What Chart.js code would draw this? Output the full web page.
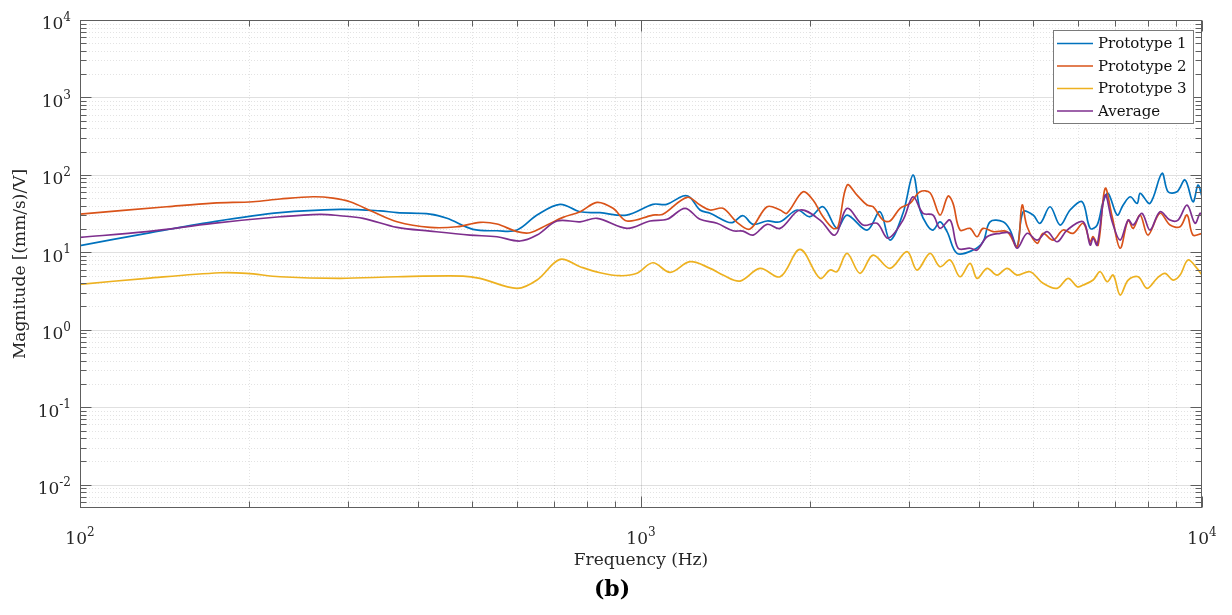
<!DOCTYPE html>
<html>
<head>
<meta charset="utf-8">
<script src="https://cdn.jsdelivr.net/npm/chart.js@4/dist/chart.umd.min.js"></script>
<style>
  html, body { margin: 0; padding: 0; background: #ffffff; }
  #wrap { width: 1232px; height: 615px; position: relative; }
</style>
</head>
<body>
<div id="wrap"><canvas id="c" width="1232" height="615"></canvas></div>
<script>
// Frequency response magnitude of three prototypes and their average (Hz, (mm/s)/V)
const freqP1 = [100,131.5,172.6,227.3,290.8,342.6,367.4,420.7,451,501.8,553.7,601.2,652.6,717.3,778.7,845.3,943,1050,1111,1188,1223,1274,1328,1422,1459,1520,1584,1678,1770,1898,2001,2111,2236,2330,2529,2667,2779,2931,3054,3143,3235,3316,3412,3512,3659,3908,4071,4190,4420,4549,4682,4798,5000,5145,5361,5586,5820,6115,6319,6502,6665,6803,7060,7236,7448,7663,7759,8078,8486,8699,9026,9328,9638,9838,10000];
const magP1 = [12.2,17.6,24.8,32.5,35.9,34.4,32.5,31.2,27.5,19.8,19.0,19.4,30.3,41.7,33.4,32.5,30.3,41.7,41.7,53.3,51.3,35.2,31.9,24.8,24.4,29.7,23.0,25.4,24.8,35.2,28.8,38.8,20.4,30.3,19.4,33.4,14.4,31.9,99.5,35.2,22.5,19.4,24.8,18.5,9.7,10.7,13.7,24.8,24.8,19.4,11.8,33.4,30.3,23.7,38.8,22.5,35.2,45.0,20.4,22.5,45.0,57.8,30.3,40.8,52.2,42.9,57.8,42.9,104.7,60.6,60.6,85.7,45.0,73.9,52.2];

const freqP2 = [100,142.7,172.6,203.4,227.3,260.2,282.5,302.9,332.9,367.4,420.7,469.9,516.4,553.7,601.2,634.1,680,726.1,778.7,834.9,891.6,944.1,1050,1094,1208,1274,1328,1400,1483,1564,1678,1770,1819,1945,2026,2111,2200,2245,2330,2427,2529,2592,2700,2779,2896,3017,3143,3275,3412,3526,3599,3704,3860,3972,4071,4243,4493,4682,4779,4879,5082,5209,5427,5655,5893,6140,6319,6397,6529,6720,6917,7147,7386,7539,7759,8011,8416,8771,9139,9405,9638,10000];
const magP2 = [31.2,38.8,43.3,45.0,48.8,52.2,50.2,45.0,33.4,24.8,21.0,21.4,24.4,23.2,18.5,17.9,22.5,28.3,33.4,44.2,37.0,25.4,30.3,31.0,51.3,40.8,35.2,37.0,24.4,20.0,38.8,35.2,31.9,60.6,47.3,28.8,20.4,21.4,73.9,54.9,40.8,38.8,26.1,25.4,37.0,42.9,60.6,58.8,30.3,53.3,42.9,19.4,20.4,15.9,20.4,18.5,18.5,11.8,40.8,21.4,13.1,17.6,14.4,19.4,17.6,23.7,13.7,15.9,12.4,67.0,28.8,11.3,26.1,20.4,30.3,16.7,31.9,22.5,21.4,30.3,16.7,17.6];

const freqP3 = [100,131.5,177.7,198.2,227.3,290.8,367.4,481.7,516.4,601.2,652.6,717.3,778.7,845.3,917.6,983.7,1050,1127,1223,1328,1400,1502,1630,1770,1921,2085,2173,2236,2330,2457,2592,2779,2980,3105,3275,3412,3556,3704,3860,3972,4139,4313,4493,4682,4939,5209,5517,5773,5991,6140,6397,6584,6776,6946,7147,7386,7695,7980,8314,8591,8879,9139,9443,9797,10000];
const magP3 = [3.86,4.62,5.45,5.36,4.84,4.62,4.84,4.94,4.62,3.43,4.39,8.1,6.52,5.45,4.99,5.36,7.34,5.52,7.57,6.21,5.09,4.26,6.21,4.84,10.9,4.62,5.91,5.62,9.7,5.36,9.2,6.21,10.2,5.91,9.7,6.52,7.96,4.84,7.21,4.62,6.21,5.09,6.21,5.09,5.62,3.98,3.43,4.62,3.60,3.78,4.39,5.62,4.17,5.09,2.81,4.39,4.84,3.43,4.62,5.36,4.39,5.09,7.96,6.21,5.09];

const freqAvg = [100,131.5,172.6,227.3,267.9,290.8,319.6,367.4,420.7,495.7,553.7,608.6,652.6,708.5,778.7,834.9,944.1,1038,1113,1198,1274,1366,1459,1520,1584,1678,1770,1921,2085,2218,2330,2488,2635,2756,2931,3054,3182,3316,3412,3556,3675,3860,3972,4139,4366,4549,4682,4879,5082,5295,5517,5749,6140,6319,6397,6502,6720,6917,7147,7386,7539,7816,8078,8416,8771,9063,9405,9718,9918,10000];
const magAvg = [15.6,18.5,23.7,28.8,31.0,29.7,27.5,21.0,18.8,16.7,15.9,14.0,16.7,25.4,24.8,27.5,20.4,25.4,26.7,37.0,26.7,23.7,19.0,18.8,16.7,23.0,20.4,35.2,26.1,16.7,37.0,22.5,23.7,15.2,26.1,52.2,31.9,30.3,20.4,26.1,11.3,11.3,10.7,15.9,17.6,17.6,11.3,17.6,14.4,18.5,13.7,19.4,24.8,12.4,15.2,12.4,54.9,24.8,14.4,26.1,22.5,31.9,19.4,33.4,26.1,26.1,40.8,23.7,31.9,30.3];

const seriesNames = ['Prototype 1', 'Prototype 2', 'Prototype 3', 'Average'];

// Axis limits and labelled decades
const xRange = [100, 10000];
const yRange = [0.005, 10000];
const xTickValues = [100, 1000, 10000];
const xTickExps = ['2', '3', '4'];
const yTickValues = [0.01, 0.1, 1, 10, 100, 1000, 10000];
const yTickExps = ['-2', '-1', '0', '1', '2', '3', '4'];

const xTitle = 'Frequency (Hz)';
const yTitle = 'Magnitude [(mm/s)/V]';
const panelTag = '(b)';

const colors = ['#0072BD', '#D95319', '#EDB120', '#7E2F8E'];

function toPoints(xs, ys) {
  const n = Math.min(xs.length, ys.length);
  const pts = [];
  for (let i = 0; i < n; i++) pts.push({ x: xs[i], y: ys[i] });
  return pts;
}

// minor decade subdivisions (2..9 x 10^n) within an axis range
function minorValues(min, max) {
  const out = [];
  for (let e = Math.floor(Math.log10(min)); e <= Math.ceil(Math.log10(max)); e++) {
    for (let k = 2; k <= 9; k++) {
      const v = k * Math.pow(10, e);
      if (v > min * 1.0001 && v < max * 0.9999) out.push(v);
    }
  }
  return out;
}

const SERIF = '"DejaVu Serif", "Liberation Serif", serif';
const AXIS_COLOR = '#5e5e5e';
const TEXT_COLOR = '#262626';

function drawPower(ctx, base, exp, x, y, align) {
  ctx.font = '17px ' + SERIF;
  const wb = ctx.measureText(base).width;
  ctx.font = '12px ' + SERIF;
  const we = ctx.measureText(exp).width;
  const total = wb + we;
  const x0 = align === 'right' ? x - total : x - total / 2;
  ctx.textAlign = 'left';
  ctx.textBaseline = 'middle';
  ctx.fillStyle = TEXT_COLOR;
  ctx.font = '17px ' + SERIF;
  ctx.fillText(base, x0, y + 5);
  ctx.font = '12px ' + SERIF;
  ctx.fillText(exp, x0 + wb, y - 2);
}

const framePlugin = {
  id: 'frame',
  beforeDatasetsDraw(chart) {
    const { ctx, chartArea: a, scales } = chart;
    const xs = scales.x, ys = scales.y;
    ctx.save();
    ctx.beginPath();
    ctx.rect(a.left, a.top, a.right - a.left, a.bottom - a.top);
    ctx.clip();
    // minor grid, dotted
    ctx.lineWidth = 1;
    ctx.strokeStyle = 'rgba(0,0,0,0.11)';
    ctx.setLineDash([1, 2]);
    minorValues(xRange[0], xRange[1]).forEach(v => {
      const p = Math.round(xs.getPixelForValue(v)) + 0.5;
      ctx.beginPath(); ctx.moveTo(p, a.top); ctx.lineTo(p, a.bottom); ctx.stroke();
    });
    minorValues(yRange[0], yRange[1]).forEach(v => {
      const p = Math.round(ys.getPixelForValue(v)) + 0.5;
      ctx.beginPath(); ctx.moveTo(a.left, p); ctx.lineTo(a.right, p); ctx.stroke();
    });
    // major grid, solid
    ctx.setLineDash([]);
    ctx.strokeStyle = 'rgba(0,0,0,0.12)';
    xTickValues.forEach(v => {
      const p = Math.round(xs.getPixelForValue(v)) + 0.5;
      ctx.beginPath(); ctx.moveTo(p, a.top); ctx.lineTo(p, a.bottom); ctx.stroke();
    });
    yTickValues.forEach(v => {
      const p = Math.round(ys.getPixelForValue(v)) + 0.5;
      ctx.beginPath(); ctx.moveTo(a.left, p); ctx.lineTo(a.right, p); ctx.stroke();
    });
    ctx.restore();
  },
  afterDatasetsDraw(chart) {
    const { ctx, chartArea: a, scales } = chart;
    const xs = scales.x, ys = scales.y;
    const L = Math.round(a.left) + 0.5, R = Math.round(a.right) - 0.5;
    const T = Math.round(a.top) + 0.5, B = Math.round(a.bottom) - 0.5;
    ctx.save();
    // axes box
    ctx.strokeStyle = AXIS_COLOR;
    ctx.lineWidth = 1;
    ctx.strokeRect(L, T, R - L, B - T);
    // inward tick marks on all four sides
    const majorLen = 11, minorLen = 6;
    const tickX = (v, len) => {
      const p = Math.round(xs.getPixelForValue(v)) + 0.5;
      ctx.beginPath();
      ctx.moveTo(p, B); ctx.lineTo(p, B - len);
      ctx.moveTo(p, T); ctx.lineTo(p, T + len);
      ctx.stroke();
    };
    const tickY = (v, len) => {
      const p = Math.round(ys.getPixelForValue(v)) + 0.5;
      ctx.beginPath();
      ctx.moveTo(L, p); ctx.lineTo(L + len, p);
      ctx.moveTo(R, p); ctx.lineTo(R - len, p);
      ctx.stroke();
    };
    minorValues(xRange[0], xRange[1]).forEach(v => tickX(v, minorLen));
    minorValues(yRange[0], yRange[1]).forEach(v => tickY(v, minorLen));
    xTickValues.forEach(v => tickX(v, majorLen));
    yTickValues.forEach(v => tickY(v, majorLen));

    // tick labels
    yTickValues.forEach((v, i) => {
      drawPower(ctx, '10', yTickExps[i], a.left - 9, ys.getPixelForValue(v), 'right');
    });
    xTickValues.forEach((v, i) => {
      drawPower(ctx, '10', xTickExps[i], xs.getPixelForValue(v), a.bottom + 27, 'center');
    });

    // axis titles
    ctx.fillStyle = TEXT_COLOR;
    ctx.font = '17px ' + SERIF;
    ctx.textAlign = 'center';
    ctx.textBaseline = 'middle';
    ctx.fillText(xTitle, (a.left + a.right) / 2, a.bottom + 53);
    ctx.save();
    ctx.translate(21, (a.top + a.bottom) / 2);
    ctx.rotate(-Math.PI / 2);
    ctx.fillText(yTitle, 0, 0);
    ctx.restore();

    // panel tag
    ctx.fillStyle = '#000000';
    ctx.font = 'bold 22px ' + SERIF;
    ctx.fillText(panelTag, 612, 590);

    // legend
    const lx = 1053.5, ly = 30.5, lw = 140, lh = 93;
    ctx.fillStyle = '#ffffff';
    ctx.fillRect(lx, ly, lw, lh);
    ctx.strokeStyle = '#7a7a7a';
    ctx.lineWidth = 1;
    ctx.strokeRect(lx, ly, lw, lh);
    const rows = [43.5, 66, 88.5, 111];
    chart.data.datasets.forEach((ds, i) => {
      const y = rows[i];
      ctx.strokeStyle = ds.borderColor;
      ctx.lineWidth = 1.6;
      ctx.beginPath();
      ctx.moveTo(1057, y); ctx.lineTo(1093, y);
      ctx.stroke();
      ctx.fillStyle = '#111111';
      ctx.font = '15px ' + SERIF;
      ctx.textAlign = 'left';
      ctx.textBaseline = 'middle';
      ctx.fillText(ds.label, 1098, y + 1);
    });
    ctx.restore();
  }
};

const datasets = [
  [freqP1, magP1], [freqP2, magP2], [freqP3, magP3], [freqAvg, magAvg]
].map((s, i) => ({
  label: seriesNames[i],
  data: toPoints(s[0], s[1]),
  borderColor: colors[i],
  backgroundColor: colors[i],
  borderWidth: 1.7,
  pointRadius: 0,
  fill: false,
  tension: 0.35,
  order: 4 - i
}));

new Chart(document.getElementById('c'), {
  type: 'line',
  data: { datasets },
  options: {
    responsive: false,
    animation: false,
    devicePixelRatio: 1,
    layout: { padding: { left: 80, right: 30, top: 20, bottom: 107 } },
    plugins: { legend: { display: false }, tooltip: { enabled: false } },
    scales: {
      x: { type: 'logarithmic', min: xRange[0], max: xRange[1], display: false },
      y: { type: 'logarithmic', min: yRange[0], max: yRange[1], display: false }
    }
  },
  plugins: [framePlugin]
});
</script>
</body>
</html>
